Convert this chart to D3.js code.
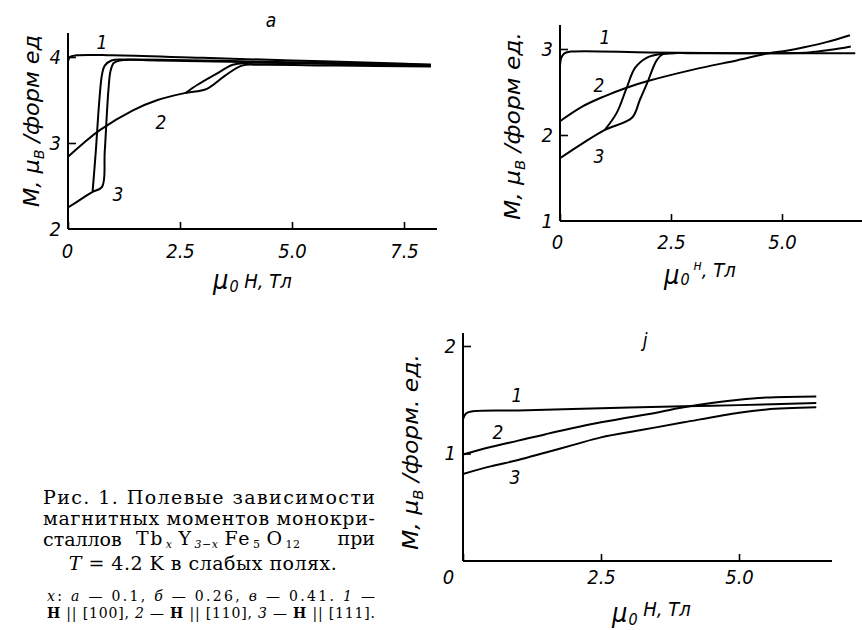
<!DOCTYPE html>
<html>
<head>
<meta charset="utf-8">
<script src="https://cdn.jsdelivr.net/npm/d3@7"></script>
<style>
  body { margin: 0; background: #fff; }
  svg { display: block; }
</style>
</head>
<body>
<svg width="862" height="630"></svg>
<script>
// ---- panel a (x = 0.1): [field T, moment] ----
const a1 = [[0, 3.94], [0.04, 4.0], [0.2, 4.02], [1, 4.02], [3, 3.99], [5, 3.96], [7, 3.93], [8.1, 3.91]];
const a2Up = [[0, 2.84], [0.35, 3.0], [0.71, 3.15], [1.45, 3.38], [2.0, 3.5], [2.6, 3.58], [3.1, 3.63], [3.5, 3.78], [3.88, 3.9], [4.3, 3.91], [6, 3.9], [8.1, 3.89]];
const a2Down = [[2.62, 3.58], [2.9, 3.68], [3.3, 3.8], [3.68, 3.91], [4.0, 3.93], [6, 3.92], [8.1, 3.9]];
const a3Up = [[0, 2.25], [0.3, 2.35], [0.54, 2.43], [0.76, 2.49], [0.82, 2.9], [0.9, 3.6], [0.95, 3.84], [1.02, 3.93], [1.15, 3.96], [2, 3.96], [5, 3.93], [8.1, 3.9]];
const a3Down = [[0.55, 2.44], [0.62, 2.9], [0.7, 3.5], [0.76, 3.8], [0.82, 3.9], [0.97, 3.96], [1.3, 3.97], [5, 3.94], [8.1, 3.91]];

// ---- panel b (x = 0.26) ----
const b1 = [[0, 2.8], [0.03, 2.9], [0.1, 2.95], [0.25, 2.97], [2, 2.96], [4, 2.95], [6, 2.95], [6.65, 2.95]];
const b2 = [[0, 2.16], [0.5, 2.33], [1.0, 2.45], [1.5, 2.55], [2.0, 2.63], [3.0, 2.76], [4.0, 2.87], [4.7, 2.95], [5.1, 2.98], [5.5, 3.02], [6.0, 3.08], [6.53, 3.16]];
const b3Up = [[0, 1.73], [0.5, 1.9], [1.01, 2.06], [1.62, 2.2], [1.8, 2.41], [1.96, 2.6], [2.18, 2.87], [2.32, 2.94], [3, 2.95], [4.5, 2.95], [5.6, 2.96], [6.1, 2.99], [6.55, 3.03]];
const b3Down = [[1.01, 2.06], [1.28, 2.26], [1.51, 2.56], [1.69, 2.78], [1.96, 2.9], [2.25, 2.94], [2.6, 2.95]];

// ---- panel c (x = 0.41) ----
const c1 = [[0, 1.32], [0.05, 1.37], [0.15, 1.39], [1, 1.4], [2.5, 1.42], [4, 1.44], [5, 1.45], [6.4, 1.47]];
const c2 = [[0, 0.99], [0.5, 1.06], [1.0, 1.12], [1.5, 1.18], [2.5, 1.29], [3.5, 1.38], [4.0, 1.43], [4.5, 1.47], [5.0, 1.5], [5.5, 1.52], [6.4, 1.53]];
const c3 = [[0, 0.81], [0.5, 0.88], [1.0, 0.94], [1.5, 1.01], [2.0, 1.08], [2.5, 1.15], [3.25, 1.22], [4.0, 1.29], [5.0, 1.38], [5.5, 1.41], [6.4, 1.43]];

// tick values
const xTicksA = [0, 2.5, 5, 7.5];
const yTicksA = [2, 3, 4];
const xTicksB = [0, 2.5, 5];
const yTicksB = [1, 2, 3];
const xTicksC = [0, 2.5, 5];
const yTicksC = [1, 2];

const svg = d3.select("svg");
const numFont = "'DejaVu Sans Condensed','DejaVu Sans',sans-serif";
const serif = "'DejaVu Serif','Liberation Serif',serif";

// append text made of parts with their own size / offset
function rich(parent, x, y, parts, anchor) {
  const t = parent.append("text")
    .attr("x", x).attr("y", y)
    .attr("font-family", numFont)
    .attr("font-style", "italic")
    .attr("text-anchor", anchor || "start")
    .attr("fill", "#000");
  let shift = 0;
  parts.forEach(p => {
    const dy = (p.dy || 0) - shift;
    shift = p.dy || 0;
    t.append("tspan")
      .attr("dy", dy)
      .attr("font-size", p.size)
      .attr("dx", p.dx || 0)
      .text(p.t);
  });
  return t;
}

function panel(o) {
  const x = d3.scaleLinear().domain(o.xDomain).range([o.left, o.right]);
  const y = d3.scaleLinear().domain(o.yDomain).range([o.bottom, o.top]);
  const g = svg.append("g");

  const xa = g.append("g")
    .attr("transform", `translate(0,${o.bottom})`)
    .call(d3.axisBottom(x).tickValues(o.xTicks).tickSizeInner(-7).tickSizeOuter(0)
      .tickPadding(o.xPad).tickFormat(d => d === 0 ? "0" : d.toFixed(1)));
  const ya = g.append("g")
    .attr("transform", `translate(${o.left},0)`)
    .call(d3.axisLeft(y).tickValues(o.yTicks).tickSizeInner(-8).tickSizeOuter(0)
      .tickPadding(7).tickFormat(d3.format("d")));

  [xa, ya].forEach(a => {
    a.attr("font-family", numFont).attr("font-size", 20).attr("font-style", "italic");
    a.select(".domain").attr("stroke-width", 2);
    a.selectAll(".tick line").attr("stroke-width", 1.6);
  });
  // x axis line runs through the origin; y axis to its top
  xa.select(".domain").attr("d", `M${o.left},0H${o.right}`);
  ya.select(".domain").attr("d", `M0,${o.bottom}V${o.top}`);
  xa.selectAll(".tick").filter(d => d === 0).select("text").attr("dx", o.zeroDx);
  if (o.hideYBottom) ya.selectAll(".tick").filter(d => d === o.yDomain[0]).select("line").remove();

  const line = d3.line()
    .x(d => x(d[0])).y(d => y(d[1]))
    .curve(d3.curveCatmullRom.alpha(0.5));
  g.selectAll("path.curve")
    .data(o.curves)
    .enter().append("path")
    .attr("class", "curve")
    .attr("d", line)
    .attr("fill", "none")
    .attr("stroke", "#000")
    .attr("stroke-width", 2)
    .attr("stroke-linejoin", "round");

  o.labels.forEach(l => {
    g.append("text").attr("x", l[0]).attr("y", l[1])
      .attr("font-family", numFont).attr("font-style", "italic")
      .attr("font-size", 19).attr("text-anchor", "middle")
      .attr("dominant-baseline", "central").text(l[2]);
  });
  return { x, y, g };
}

// panel a
panel({
  left: 68, right: 437, top: 33, bottom: 229,
  xDomain: [0, 369 / 44.8], yDomain: [2, 2 + 196 / 86],
  xTicks: xTicksA, yTicks: yTicksA, xPad: 15, zeroDx: -1, hideYBottom: true,
  curves: [a1, a2Up, a2Down, a3Up, a3Down],
  labels: [[102, 42, "1"], [161, 122, "2"], [118, 194, "3"], [271, 20, "a"]]
});

// panel b
panel({
  left: 560, right: 862, top: 25, bottom: 221,
  xDomain: [0, 302 / 44.4], yDomain: [1, 1 + 196 / 86],
  xTicks: xTicksB, yTicks: yTicksB, xPad: 14, zeroDx: -3, hideYBottom: true,
  curves: [b1, b2, b3Up, b3Down],
  labels: [[605, 37, "1"], [599, 85, "2"], [599, 156, "3"]]
});

// panel c
panel({
  left: 463, right: 832, top: 333, bottom: 561,
  xDomain: [0, 369 / 55.2], yDomain: [0, 228 / 107.5],
  xTicks: xTicksC, yTicks: yTicksC, xPad: 9, zeroDx: -15, hideYBottom: false,
  curves: [c1, c2, c3],
  labels: [[517, 395, "1"], [498, 432, "2"], [515, 477, "3"], [645, 340, "j"]]
});

// axis titles (field)
rich(svg, 213, 289, [{ t: "μ", size: 27 }, { t: "0", size: 16, dy: 3, dx: 1 }, { t: " H, Тл", size: 20, dy: -1 }]);
rich(svg, 664, 284, [{ t: "μ", size: 27 }, { t: "0", size: 16, dy: 1, dx: 1 }, { t: " н", size: 14, dy: -14 }, { t: ", Тл", size: 20, dy: -7 }]);
rich(svg, 612, 622, [{ t: "μ", size: 27 }, { t: "0", size: 16, dy: 3, dx: 1 }, { t: " H, Тл", size: 20, dy: -6 }]);

// axis titles (moment), rotated
function yTitle(cx, cy, parts, len) {
  const g = svg.append("g").attr("transform", `translate(${cx},${cy}) rotate(-90)`);
  const t = rich(g, 0, 0, parts, "middle");
  if (len) t.attr("textLength", len).attr("lengthAdjust", "spacingAndGlyphs");
}
yTitle(39, 121, [{ t: "M, μ", size: 22 }, { t: "B", size: 14, dy: 5 }, { t: " /форм ед", size: 22 }], 172);
yTitle(520, 126, [{ t: "M, μ", size: 22 }, { t: "B", size: 14, dy: 5 }, { t: " /форм ед.", size: 22 }], 188);
yTitle(418, 452, [{ t: "M, μ", size: 22 }, { t: "B", size: 14, dy: 5 }, { t: " /форм. ед.", size: 22 }], 196);

// caption
const cap = svg.append("g").attr("font-family", serif).attr("fill", "#000");
const capLines = [
  "Рис. 1. Полевые зависимости",
  "магнитных моментов монокри-"
];
capLines.forEach((s, i) => {
  cap.append("text").attr("x", 43).attr("y", 504 + i * 21)
    .attr("font-size", 19).attr("textLength", 332).attr("lengthAdjust", "spacing").text(s);
});
cap.append("text").attr("x", 43).attr("y", 546).attr("font-size", 19).text("сталлов");
// formula pieces laid side by side
const formula = [["Tb", 0], ["x", 1], ["Y", 0], ["3−x", 1], ["Fe", 0], ["5", 1], ["O", 0], ["12", 1]];
let fx = 136;
formula.forEach(p => {
  const t = cap.append("text").attr("x", fx).attr("y", p[1] ? 548 : 545)
    .attr("font-size", p[1] ? 11 : 19)
    .attr("letter-spacing", p[1] ? 0.5 : 1.5)
    .attr("font-style", p[0].includes("x") ? "italic" : null)
    .text(p[0]);
  fx += t.node().getComputedTextLength() + (p[1] ? 6 : 2);
});
cap.append("text").attr("x", 375).attr("y", 545).attr("font-size", 19).attr("text-anchor", "end").text("при");
const l4 = cap.append("text").attr("x", 203).attr("y", 570).attr("font-size", 19)
  .attr("text-anchor", "middle").attr("letter-spacing", 0.5);
l4.append("tspan").attr("font-style", "italic").text("T");
l4.append("tspan").text(" = 4.2 K в слабых полях.");

const l5 = cap.append("text").attr("x", 47).attr("y", 601).attr("font-size", 14)
  .attr("textLength", 328).attr("lengthAdjust", "spacing");
[["x", "italic"], [": "], ["a", "italic"], [" — 0.1,  "], ["б", "italic"], [" — 0.26,  "], ["в", "italic"], [" — 0.41.  "], ["1", "italic"], [" —"]]
  .forEach(p => l5.append("tspan").attr("font-style", p[1] || null).text(p[0]));
const l6 = cap.append("text").attr("x", 47).attr("y", 618).attr("font-size", 14)
  .attr("textLength", 328).attr("lengthAdjust", "spacing");
[["H", "b"], [" || [100], "], ["2", "italic"], [" — "], ["H", "b"], [" || [110], "], ["3", "italic"], [" — "], ["H", "b"], [" || [111]."]]
  .forEach(p => l6.append("tspan")
    .attr("font-style", p[1] === "italic" ? "italic" : null)
    .attr("font-weight", p[1] === "b" ? "bold" : null).text(p[0]));
</script>
</body>
</html>
